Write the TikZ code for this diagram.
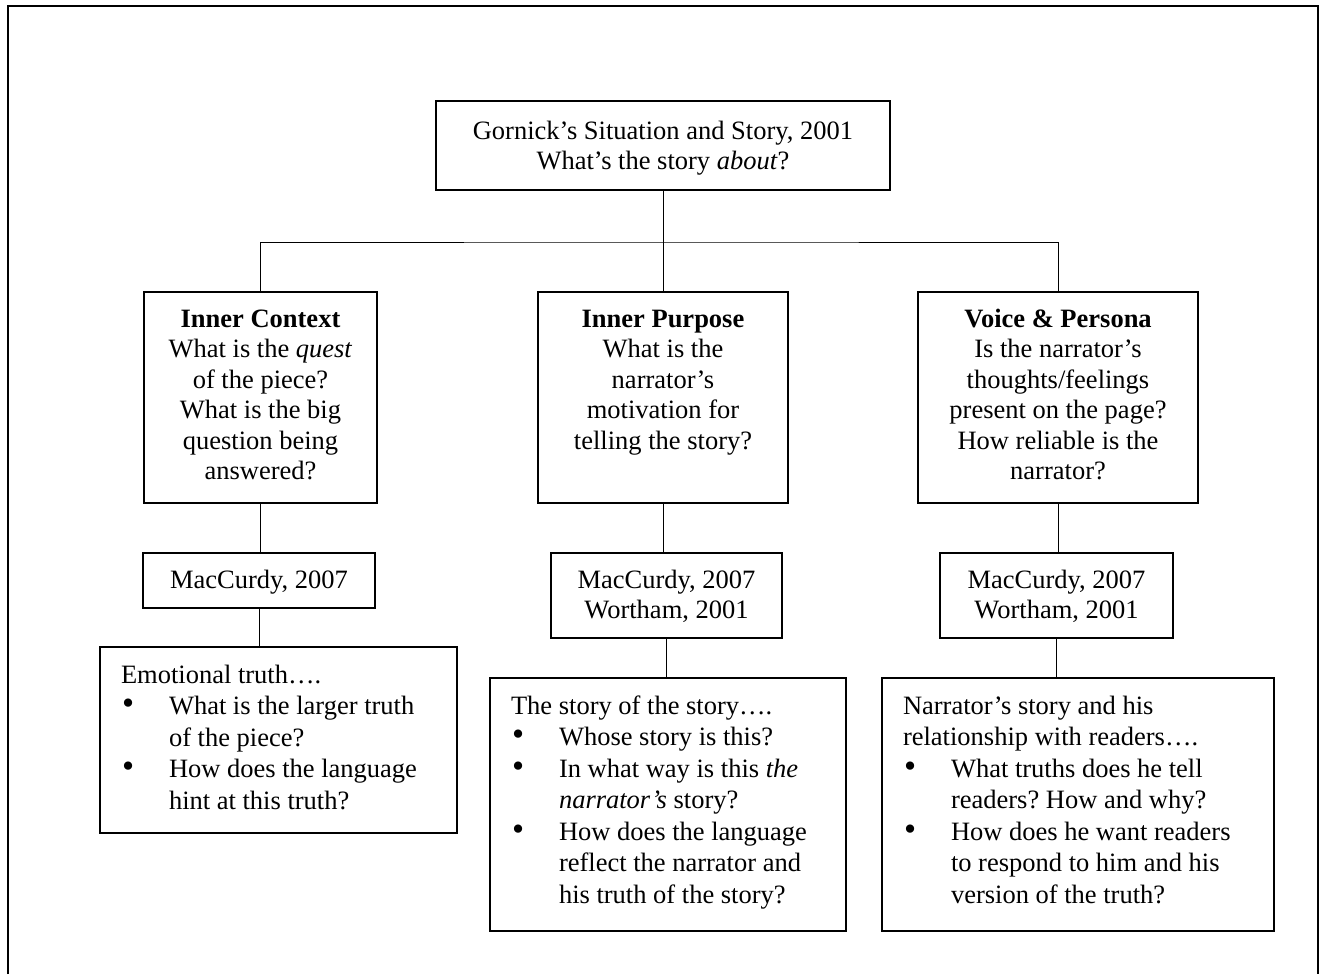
\documentclass[tikz,border=0pt]{standalone}
\usepackage{fontspec}
\setmainfont{Liberation Serif}
\usepackage{tikz}
\frenchspacing

\newcommand{\ctrtext}[3]{\parbox[c][#2][t]{#1}{\centering\strut#3}}
\newcommand{\lfttext}[3]{\parbox[c][#2][t]{#1}{\raggedright\strut#3}}
\newcommand{\bul}{\par\hangindent=48pt\hangafter=1\noindent\makebox[48pt][l]{\hspace{1pt}\scalebox{1.3}{\textbullet}}}

\begin{document}
\begin{tikzpicture}[x=1pt, y=-1pt,
		cell/.style={draw, rectangle, line width=1.2pt, inner xsep=4pt, inner ysep=14pt, font=\fontsize{26.5}{30.5}\selectfont},
		listcell/.style={cell, inner xsep=21pt, font=\fontsize{26.5}{31.5}\selectfont}]
				\useasboundingbox (0,0) rectangle (1324,974);
				\draw[line width=1.5pt] (8,974) -- (8,6) -- (1318,6) -- (1318,974);

				\node (title) [cell, inner ysep=17pt] at (663,145.5) {\ctrtext{446pt}{55pt}{Gornick’s Situation and Story, 2001\\ What’s the story \textit{about}?}};
				\node (context) [cell] at (260.5,397.5) {\ctrtext{225pt}{183pt}{\textbf{Inner Context}\\ What is the \textit{quest}\\ of the piece?\\ What is the big\\ question being\\ answered?}};
				\node (purpose) [cell] at (663,397.5) {\ctrtext{242pt}{183pt}{\textbf{Inner Purpose}\\ What is the\\ narrator’s\\ motivation for\\ telling the story?}};
				\node (voice) [cell] at (1058,397.5) {\ctrtext{272pt}{183pt}{\textbf{Voice \& Persona}\\ Is the narrator’s\\ thoughts/feelings\\ present on the page?\\ How reliable is the\\ narrator?}};
				\node (macleft) [cell] at (259,580.5) {\ctrtext{224pt}{27pt}{MacCurdy, 2007}};
				\node (macmid) [cell] at (666.5,595.5) {\ctrtext{223pt}{57pt}{MacCurdy, 2007\\ Wortham, 2001}};
				\node (macright) [cell] at (1056.5,595.5) {\ctrtext{225pt}{57pt}{MacCurdy, 2007\\ Wortham, 2001}};
				\node (emotion) [listcell] at (278.5,740) {\lfttext{315pt}{158pt}{Emotional truth….
					\bul What is the larger truth\newline of the piece?
					\bul How does the language\newline hint at this truth?}};
				\node (storybox) [listcell] at (668,804.5) {\lfttext{314pt}{225pt}{The story of the story….
					\bul Whose story is this?
					\bul In what way is this \textit{the}\newline \textit{narrator’s} story?
					\bul How does the language\newline reflect the narrator and\newline his truth of the story?}};
				\node (narrator) [listcell] at (1078,804.5) {\lfttext{350pt}{225pt}{Narrator’s story and his\\ relationship with readers….
					\bul What truths does he tell\newline readers? How and why?
					\bul How does he want readers\newline to respond to him and his\newline version of the truth?}};

				% Lines
				\coordinate (bus) at (663,242);
				\draw[line width=1pt] (title) -- (purpose);
				\draw[line width=1pt] (context.north) |- (bus) -| (voice.north);
				\draw[line width=1pt] (context.south) -- (context.south |- macleft.north);
				\draw[line width=1pt] (macleft.south) -- (macleft.south |- emotion.north);
				\draw[line width=1pt] (purpose.south) -- (purpose.south |- macmid.north);
				\draw[line width=1pt] (macmid.south) -- (macmid.south |- storybox.north);
				\draw[line width=1pt] (voice.south) -- (voice.south |- macright.north);
				\draw[line width=1pt] (macright.south) -- (macright.south |- narrator.north);
\end{tikzpicture}
\end{document}
